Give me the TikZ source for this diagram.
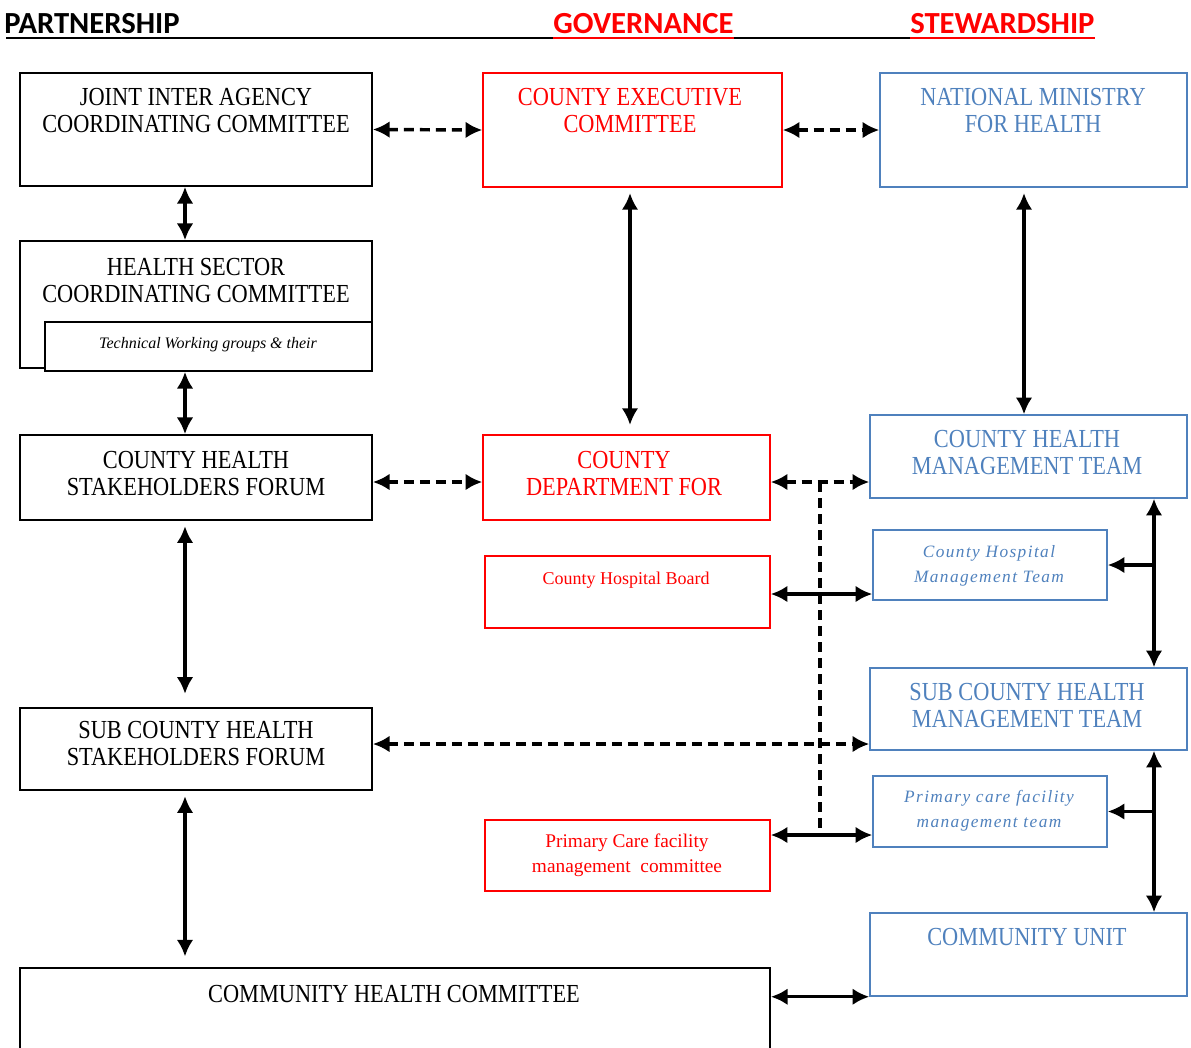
\documentclass[tikz,border=0pt]{standalone}
\usepackage{fontspec}
\setmainfont{Liberation Serif}[FakeStretch=0.86]
\newfontfamily\plainserif{Liberation Serif}
\newfontfamily\wideserif{Liberation Serif}[LetterSpace=8]
\newfontfamily\headfont{Carlito}
\usetikzlibrary{fit,arrows.meta}
\definecolor{govred}{RGB}{255,0,0}
\definecolor{stewblue}{RGB}{79,129,189}

\begin{document}
\begin{tikzpicture}[x=0.75pt,y=0.75pt,yscale=-1,xscale=1,
  pbox/.style={draw=black,line width=1.3pt,inner sep=0pt},
  gbox/.style={pbox,draw=govred,line width=1.1pt},
  sbox/.style={pbox,draw=stewblue,line width=1.1pt},
  ptext/.style={align=center,inner sep=0pt,font=\fontsize{19.5}{20.25}\selectfont},
  gtext/.style={ptext,text=govred},
  stext/.style={ptext,text=stewblue},
  smalltext/.style={align=center,inner sep=0pt,font=\plainserif\fontsize{13.5}{19}\selectfont},
  headtext/.style={inner sep=0pt,font=\headfont\bfseries\fontsize{23}{27}\selectfont},
  rule/.style={line width=1.6pt},
  line/.style={line width=2.6pt},
  link/.style={line,{Latex[length=12.5pt,width=12.5pt]}-{Latex[length=12.5pt,width=12.5pt]}},
  dline/.style={line,dash pattern=on 7.5pt off 4.5pt},
  dlink/.style={link,dash pattern=on 7.5pt off 4.5pt},
  branch/.style={line,-{Latex[length=12.5pt,width=12.5pt]}}]
\clip (0,0) rectangle (1191,1047);

% columns and rows of the connectors
\coordinate (colL) at (185,0);
\coordinate (colM) at (630,0);
\coordinate (colD) at (820,0);
\coordinate (colR) at (1024,0);
\coordinate (colT) at (1154,0);
\coordinate (rowU) at (0,38);
\coordinate (rowC) at (0,482);
\coordinate (rowH) at (0,594);
\coordinate (rowS) at (0,744);
\coordinate (rowP) at (0,835);

% Text Node
\node[headtext,anchor=base west] (part) at (4,33) {PARTNERSHIP};
% Text Node
\node[headtext,text=govred,anchor=base west] (gov) at (553,33) {GOVERNANCE};
% Text Node
\node[headtext,text=govred,anchor=base west] (stew) at (910,33) {STEWARDSHIP};
%Straight Lines
\draw[rule] (6,38) -- (1095,38);
\draw[rule,govred] (gov.west |- rowU) -- (gov.east |- rowU);
\draw[rule,govred] (stew.west |- rowU) -- (stew.east |- rowU);

%Shape: Rectangle
\node[pbox,fit={(20,73) (372,186)}] (jiac) {};
\node[gbox,fit={(483,73) (782,187)}] (cec) {};
\node[sbox,fit={(880,73) (1187,187)}] (nmh) {};
\node[pbox,fit={(20,241) (372,368)}] (hscc) {};
\node[pbox,fill=white,fit={(45,322) (372,371)}] (twg) {};
\node[pbox,fit={(20,435) (372,520)}] (chsf) {};
\node[gbox,fit={(483,435) (770,520)}] (cdf) {};
\node[sbox,fit={(870,415) (1187,498)}] (chmt) {};
\node[gbox,fit={(485,556) (770,628)}] (chb) {};
\node[sbox,fit={(873,530) (1107,600)}] (chospmt) {};
\node[sbox,fit={(870,668) (1187,750)}] (schmt) {};
\node[pbox,fit={(20,708) (372,790)}] (schsf) {};
\node[sbox,fit={(873,776) (1107,847)}] (pcfmt) {};
\node[gbox,fit={(485,820) (770,891)}] (pcfmc) {};
\node[sbox,fit={(870,913) (1187,996)}] (cu) {};
\node[pbox,fit={(20,968) (770,1070)}] (chc) {};

% Text Node
\node[ptext] (jiact) at (196,111) {JOINT INTER AGENCY\\COORDINATING COMMITTEE};
\node[gtext] (cect) at (630,111) {COUNTY EXECUTIVE\\COMMITTEE};
\node[stext] (nmht) at (1033,111) {NATIONAL MINISTRY\\FOR HEALTH};
\node[ptext] (hscct) at (196,281) {HEALTH SECTOR\\COORDINATING COMMITTEE};
\node[smalltext,font=\plainserif\itshape\fontsize{12}{14}\selectfont] (twgt) at (208,345) {Technical Working groups \& their};
\node[ptext] (chsft) at (196,474) {COUNTY HEALTH\\STAKEHOLDERS FORUM};
\node[gtext] (cdft) at (624,474) {COUNTY\\DEPARTMENT FOR};
\node[stext] (chmtt) at (1027,453) {COUNTY HEALTH\\MANAGEMENT TEAM};
\node[smalltext,text=govred] (chbt) at (626,580) {County Hospital Board};
\node[smalltext,text=stewblue,font=\wideserif\itshape\fontsize{13}{19}\selectfont] (chospmtt) at (989,566) {County Hospital\\Management Team};
\node[stext] (schmtt) at (1027,706) {SUB COUNTY HEALTH\\MANAGEMENT TEAM};
\node[ptext] (schsft) at (196,744) {SUB COUNTY HEALTH\\STAKEHOLDERS FORUM};
\node[smalltext,text=stewblue,font=\wideserif\itshape\fontsize{13}{19}\selectfont] (pcfmtt) at (989,811) {Primary care facility\\management team};
\node[smalltext,text=govred,font=\plainserif\fontsize{14.5}{19}\selectfont] (pcfmct) at (627,855) {Primary Care facility\\management\ \ committee};
\node[stext] (cut) at (1027,937) {COMMUNITY UNIT};
\node[ptext] (chct) at (394,994) {COMMUNITY HEALTH COMMITTEE};

%Straight Lines
\draw[dlink] (jiac.east) -- (cec.west);
\draw[dlink] (cec.east) -- (nmh.west);
\draw[link] (jiac.south -| colL) -- (hscc.north -| colL);
\draw[link] (twg.south -| colL) -- (chsf.north -| colL);
\draw[link,shorten <=4pt,shorten >=7pt] (cec.south -| colM) -- (cdf.north -| colM);
\draw[link,shorten <=4pt] (nmh.south -| colR) -- (chmt.north -| colR);
\draw[dlink] (chsf.east |- rowC) -- (cdf.west |- rowC);
\draw[dlink] (cdf.east |- rowC) -- (chmt.west |- rowC);
\draw[dline] (colD |- rowC) -- (colD |- rowP);
\draw[link] (chb.east |- rowH) -- (chospmt.west |- rowH);
\draw[link] (chmt.south -| colT) -- (schmt.north -| colT);
\draw[branch] (chospmt.east -| colT) -- (chospmt.east);
\draw[dlink] (schsf.east |- rowS) -- (schmt.west |- rowS);
\draw[link,shorten <=4pt,shorten >=10pt] (chsf.south -| colL) -- (schsf.north -| colL);
\draw[link] (schmt.south -| colT) -- (cu.north -| colT);
\draw[branch] (pcfmt.east -| colT) -- (pcfmt.east);
\draw[link] (pcfmc.east |- rowP) -- (pcfmt.west |- rowP);
\draw[link,shorten <=4pt,shorten >=8pt] (schsf.south -| colL) -- (chc.north -| colL);
\draw[link] (chc.east |- cu.south west) -- (cu.south west);

\end{tikzpicture}
\end{document}
